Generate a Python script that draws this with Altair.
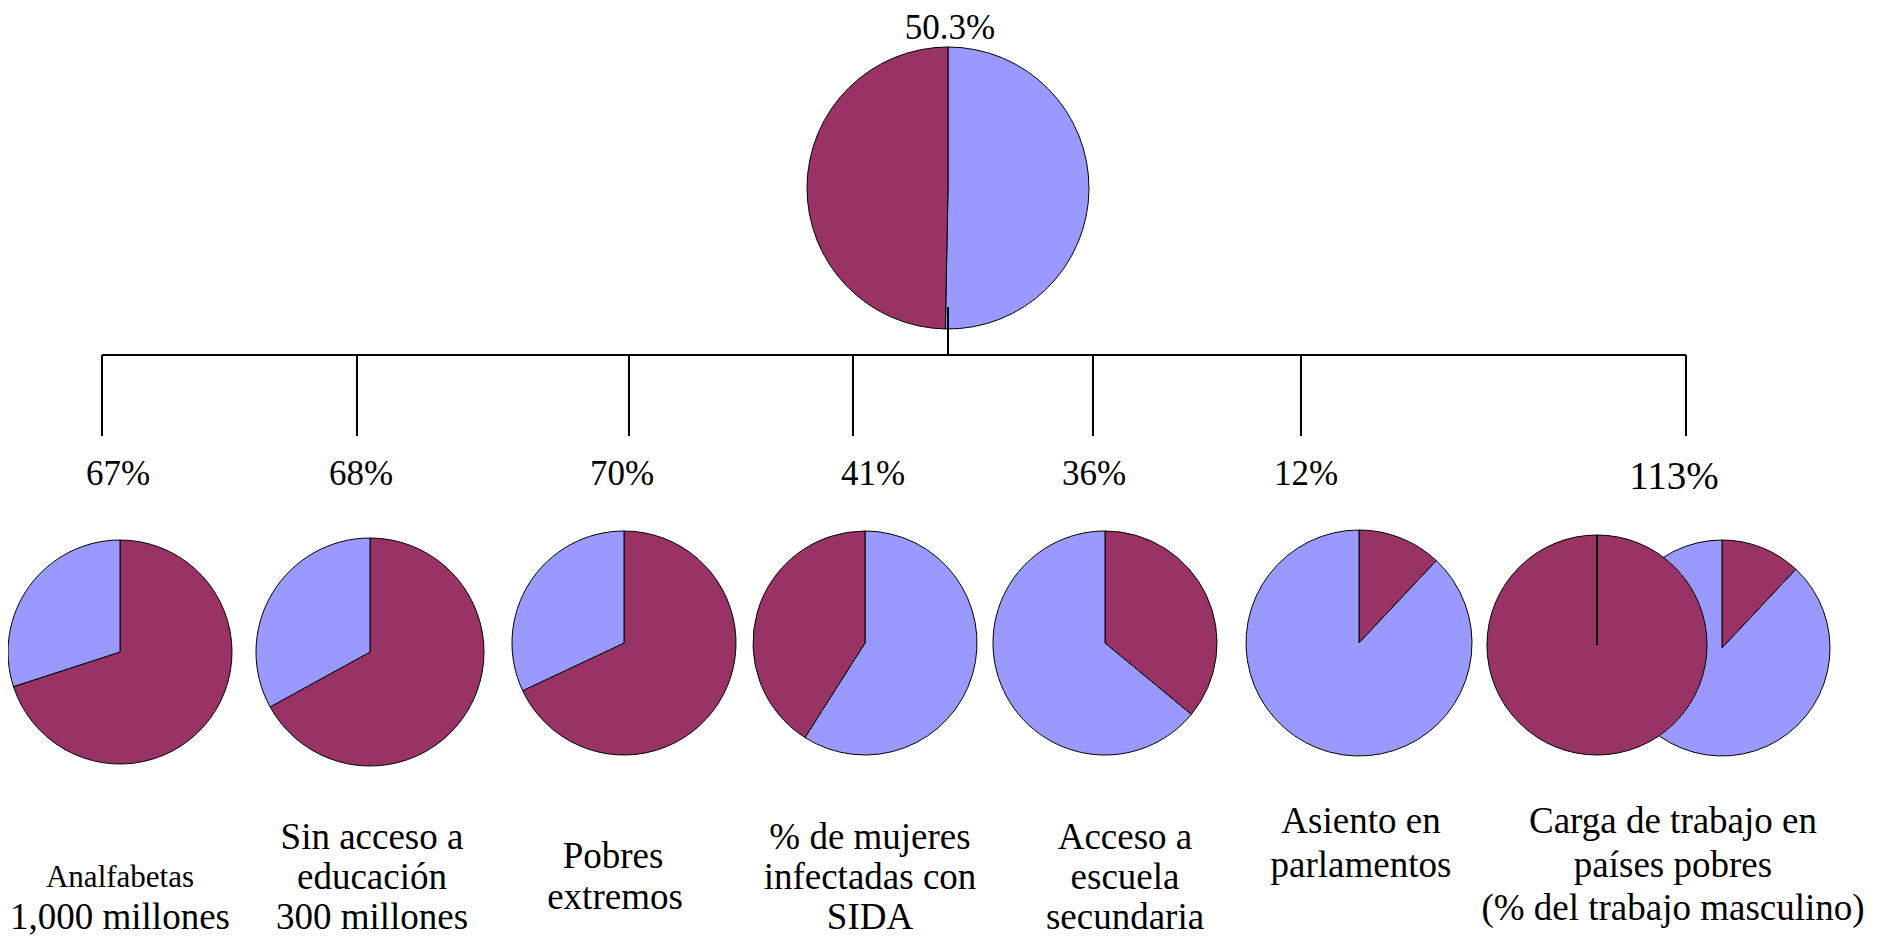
import math
import altair as alt
import pandas as pd

PURPLE = "#993366"
BLUE = "#9999FF"

# ---- pies (purple share as drawn, whether purple slice comes first clockwise from 12 o'clock)
pie_purple = [49.7, 70, 67, 68, 41, 36, 12, 12, 100]
purple_first = [False, True, True, True, False, True, True, True, True]
pie_cx = [948, 120, 370, 624, 865, 1105, 1359, 1722, 1597]
pie_cy = [188, 652, 652, 643, 643, 643, 643, 648, 645]
pie_r = [141, 112, 114, 112, 112, 112, 113, 108, 110]

# ---- percentage labels
pct_text = ["50.3%", "67%", "68%", "70%", "41%", "36%", "12%", "113%"]
pct_x = [950, 118, 361, 622, 873, 1094, 1306, 1674]
pct_y = [39, 485, 485, 485, 485, 485, 485, 489]
pct_size = [35, 35, 35, 35, 35, 35, 35, 39]

# ---- category labels (one entry per line)
cat_text = ["Analfabetas", "1,000 millones",
            "Sin acceso a", "educación", "300 millones",
            "Pobres", "extremos",
            "% de mujeres", "infectadas con", "SIDA",
            "Acceso a", "escuela", "secundaria",
            "Asiento en", "parlamentos",
            "Carga de trabajo en", "países pobres", "(% del trabajo masculino)"]
cat_x = [120, 120, 372, 372, 372, 613, 615, 870, 870, 870,
         1125, 1125, 1125, 1361, 1361, 1673, 1673, 1673]
cat_y = [887, 929, 849, 889, 929, 868, 909, 849, 889, 929,
         849, 889, 929, 833, 877, 833, 877, 920]
cat_size = [31, 37, 37, 37, 37, 37, 37, 37, 37, 37,
            37, 37, 37, 37, 37, 37, 37, 37]

# ---- tree connector
tree_top = [948, 307, 355]          # stem x, from y, to y
tree_y = 355
drop_x = [102, 357, 629, 853, 1093, 1301, 1686]
drop_bottom = 436

# build arc table
rows = []
for i, p in enumerate(pie_purple):
    if purple_first[i]:
        parts = [(PURPLE, 0.0, p), (BLUE, p, 100.0)]
    else:
        parts = [(BLUE, 0.0, 100.0 - p), (PURPLE, 100.0 - p, 100.0)]
    for col, a, b in parts:
        if b - a <= 0:
            continue
        rows.append({"pie": i, "cx": pie_cx[i], "cy": pie_cy[i], "r": pie_r[i],
                     "color": col, "t0": a / 100 * 2 * math.pi, "t1": b / 100 * 2 * math.pi})
arc_df = pd.DataFrame(rows)

# connector segments
segs = [{"x1": tree_top[0], "x2": tree_top[0], "y1": tree_top[1], "y2": tree_top[2]},
        {"x1": min(drop_x), "x2": max(drop_x), "y1": tree_y, "y2": tree_y}]
for dx in drop_x:
    segs.append({"x1": dx, "x2": dx, "y1": tree_y, "y2": drop_bottom})
# radius line on full (100%) pies
for i, p in enumerate(pie_purple):
    if p >= 100:
        segs.append({"x1": pie_cx[i], "x2": pie_cx[i], "y1": pie_cy[i], "y2": pie_cy[i] - pie_r[i]})
seg_df = pd.DataFrame(segs)

text_df = pd.DataFrame({
    "t": pct_text + cat_text,
    "x": pct_x + cat_x,
    "y": pct_y + cat_y,
    "fs": pct_size + cat_size,
})

W, H = 1864, 929
xs = alt.Scale(domain=[8, 8 + W], range=[0, W], zero=False, nice=False)
ys = alt.Scale(domain=[8, 8 + H], range=[0, H], zero=False, nice=False)

arcs = alt.Chart(arc_df).mark_arc(stroke="black", strokeWidth=1).encode(
    x=alt.X("cx:Q", scale=xs, axis=None),
    y=alt.Y("cy:Q", scale=ys, axis=None),
    theta=alt.Theta("t0:Q", scale=None),
    theta2="t1:Q",
    radius=alt.Radius("r:Q", scale=None),
    fill=alt.Fill("color:N", scale=None),
    order=alt.Order("pie:Q"),
)

rules = alt.Chart(seg_df).mark_rule(color="black", strokeWidth=2).encode(
    x=alt.X("x1:Q", scale=xs, axis=None),
    x2="x2:Q",
    y=alt.Y("y1:Q", scale=ys, axis=None),
    y2="y2:Q",
)

texts = alt.Chart(text_df).mark_text(
    font="Liberation Serif", align="center", baseline="alphabetic", color="black"
).encode(
    x=alt.X("x:Q", scale=xs, axis=None),
    y=alt.Y("y:Q", scale=ys, axis=None),
    text="t:N",
    size=alt.Size("fs:Q", scale=None),
)

chart = alt.layer(arcs, rules, texts).properties(
    width=W, height=H, padding=0,
    autosize=alt.AutoSizeParams(type="none"),
    background="white",
).configure_view(stroke=None)

chart.save("out.html", embed_options={"renderer": "svg", "actions": False})
